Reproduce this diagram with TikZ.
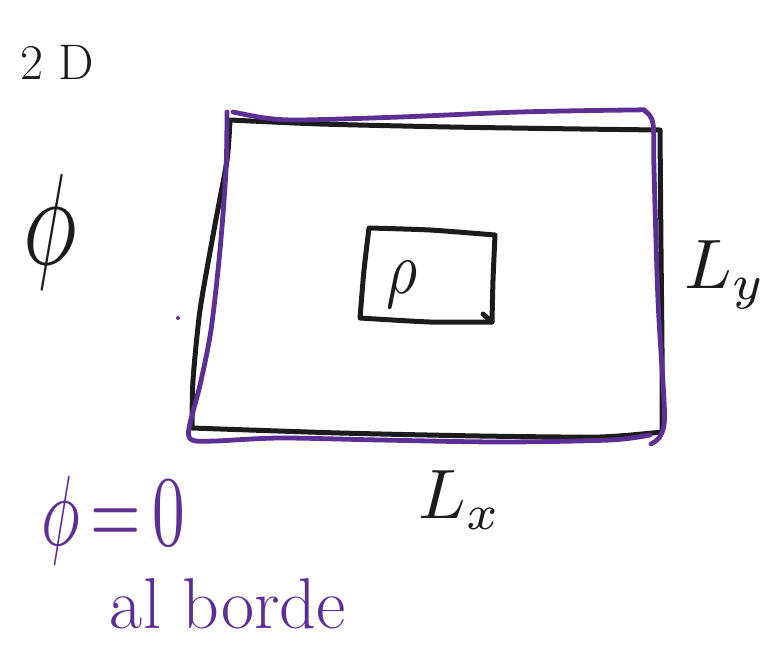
\documentclass[tikz,border=0pt]{standalone}
\usetikzlibrary{calc}
\definecolor{ink}{RGB}{28,28,28}
\definecolor{pen}{RGB}{92,46,150}
\tikzset{
  inkline/.style={draw=ink, line width=5pt, line cap=round, line join=round},
  penline/.style={draw=pen, line width=4.8pt, line cap=round, line join=round},
  inklabel/.style={text=ink, inner sep=0pt, anchor=center},
  penlabel/.style={text=pen, inner sep=0pt, anchor=center},
}
\newcommand{\sz}[1]{\fontsize{#1}{#1}\selectfont}
\begin{document}
\begin{tikzpicture}[x=1pt,y=-1pt]
\useasboundingbox (0,0) rectangle (767,655);

% domain outline (black)
\draw[inkline] plot[smooth, tension=0.4] coordinates {(230,120) (320,124) (450,127) (580,129) (660,130)}
  -- plot[smooth, tension=0.4] coordinates {(660,130) (661,250) (662,350) (662,432)}
  -- plot[smooth, tension=0.4] coordinates {(662,432) (600,437) (480,436) (340,433) (192,428)}
  -- plot[smooth, tension=0.4] coordinates {(192,428) (193,380) (200,310) (214,230) (227,160) (230,120)};

% boundary, traced over in purple
\draw[penline] plot[smooth, tension=0.5] coordinates {(233,112) (265,118) (300,120) (400,117) (520,112) (632,110) (645,111) (653,124) (654,170) (658,300) (664,400) (664,425) (659,438) (651,444)};
\draw[penline] plot[smooth, tension=0.5] coordinates {(227,112) (226,170) (220,250) (211,330) (200,385) (189,428) (192,440) (215,441) (280,438) (380,440) (500,442) (610,440) (650,435)};
\fill[pen] (178,318) circle (2pt);

% source region
\draw[inkline] plot[smooth, tension=0.4] coordinates {(369,228) (430,230) (495,235)}
  -- plot[smooth, tension=0.4] coordinates {(495,235) (493,280) (492,322)}
  -- plot[smooth, tension=0.4] coordinates {(492,322) (430,322) (360,318)}
  -- plot[smooth, tension=0.4] coordinates {(360,318) (364,270) (369,228)};
\draw[inkline] (483,314) -- (492,322);

% labels
\node[inklabel] (dim) at (57,62) {\sz{50}2\hspace{0.3em}D};
\node[inklabel] (phi) at (50,232) {\scalebox{9}[13]{$\phi$}};
\node[inklabel] (rho) at (402,285) {\scalebox{6}[7.5]{$\rho$}};
\node[inklabel] (ly) at (725,275) {\scalebox{7}{$L_y$}};
\node[inklabel] (lx) at (460,500) {\scalebox{7}{$L_x$}};
\node[penlabel] (bc) at (113,520) {\scalebox{6.5}[10]{$\phi\,{=}\,0$}};
\node[penlabel] (bcword) at (228,604) {\sz{72}al borde};
\end{tikzpicture}
\end{document}
